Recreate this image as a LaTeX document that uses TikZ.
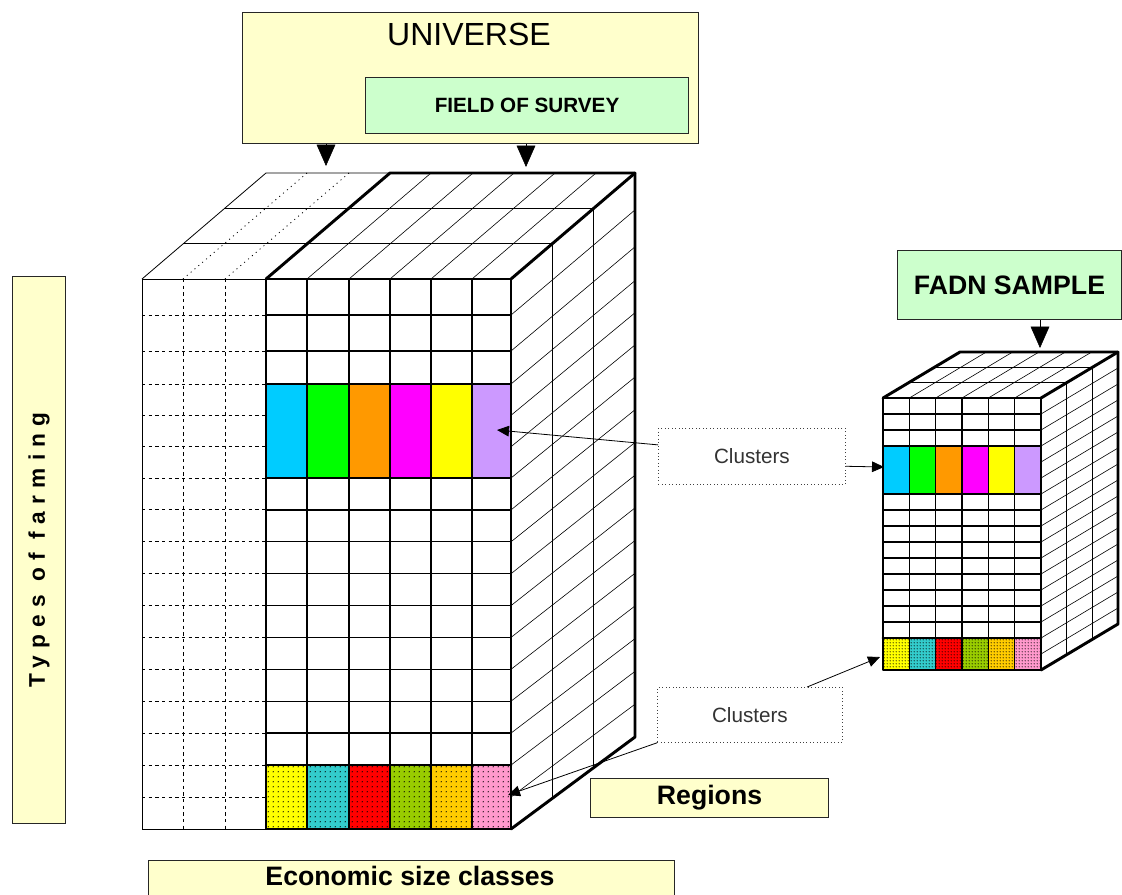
\documentclass[tikz,border=0pt]{standalone}
\usepackage{fontspec}
\setmainfont{Liberation Sans}
\usetikzlibrary{arrows.meta,patterns,calc}
\def\pu{0.75pt}
\pgfdeclarepatternformonly{rdots}{\pgfqpoint{0pt}{0pt}}{\pgfqpoint{3.5pt}{3.5pt}}{\pgfqpoint{3.5pt}{3.5pt}}{\pgfpathcircle{\pgfqpoint{1.75pt}{1.75pt}}{0.55pt}\pgfusepath{fill}}
\pgfdeclarepatternformonly{sdots}{\pgfqpoint{0pt}{0pt}}{\pgfqpoint{2.3pt}{2.3pt}}{\pgfqpoint{2.3pt}{2.3pt}}{\pgfpathcircle{\pgfqpoint{1.15pt}{1.15pt}}{0.55pt}\pgfusepath{fill}}
\definecolor{lyellow}{HTML}{FFFFCC}
\definecolor{lgreen}{HTML}{CCFFCC}
\definecolor{ccyan}{HTML}{00CCFF}
\definecolor{cgreen}{HTML}{00FF00}
\definecolor{corange}{HTML}{FF9900}
\definecolor{cmag}{HTML}{FF00FF}
\definecolor{cyel}{HTML}{FFFF00}
\definecolor{clav}{HTML}{CC99FF}
\definecolor{rteal}{HTML}{33CCCC}
\definecolor{rred}{HTML}{FF0000}
\definecolor{rolive}{HTML}{99CC00}
\definecolor{rgold}{HTML}{FFCC00}
\definecolor{rpink}{HTML}{FF99CC}
\begin{document}
\begin{tikzpicture}[x=0.75pt,y=-0.75pt,
  box/.style={draw=black!85, line width=0.8pt, inner sep=0pt, anchor=north west},
  cbox/.style={draw=black!75, dotted, line width=0.6pt, inner sep=0pt, anchor=north west, text=black!80, font=\fontsize{15.5}{15.5}\selectfont},
  boldline/.style={line width=2.2pt, line join=round, line cap=round},
  fgrid/.style={line width=1pt},
  sgrid/.style={line width=1.1pt},
  dthin/.style={line width=0.45pt},
  udash/.style={line width=0.7pt, dash pattern=on 2.5pt off 2.5pt},
  udot/.style={line width=0.6pt, dash pattern=on 0.8pt off 3pt},
  uthin/.style={line width=0.6pt},
  tri/.style={-{Triangle[length=16pt,width=14pt]}},
  clarrow/.style={line width=0.6pt, -{Triangle[length=9pt,width=8pt]}}
]
\useasboundingbox (0,0) rectangle (1122,894);
\clip (0,0) rectangle (1122,894);

% ---------------- main cube: fills
\foreach \xa/\xb/\c in {266/307/ccyan,307/349/cgreen,349/390/corange,390/431/cmag,431/472/cyel,472/511/clav}
  \fill[\c] (\xa,384) rectangle (\xb,478);
\foreach \xa/\xb/\c in {266/307/cyel,307/349/rteal,349/390/rred,390/431/rolive,431/472/rgold,472/511/rpink}{
  \fill[\c] (\xa,765) rectangle (\xb,829);
  \fill[pattern=rdots] (\xa,765) rectangle (\xb,829);}

% universe front face
\foreach \y in {315,351,384,415.3,446.7,478,509.9,541.8,573.7,605.6,637.4,669.3,701.2,733.1,765,797}
  \draw[udash] (142,\y) -- (266,\y);
\foreach \x in {183,225} \draw[udash] (\x,279) -- (\x,829);
\draw[uthin] (266,279) -- (142,279) -- (142,829) -- (266,829);

% field front grid (bands are single merged rows)
\foreach \y in {315,351,509.9,541.8,573.7,605.6,637.4,669.3,701.2,733.1}
  \draw[fgrid] (266,\y) -- (511,\y);
\foreach \x in {307,349,390,431,472} \draw[fgrid] (\x,279) -- (\x,829);

% right face
\foreach \y in {315,351,384,415.3,446.7,478,509.9,541.8,573.7,605.6,637.4,669.3,701.2,733.1,765,797}
  \draw[dthin] (511,\y) -- (635,{173+(\y-279)*1.02545});
\draw[fgrid] (552.33,243.67) -- (552.33,798.33);
\draw[fgrid] (593.67,208.33) -- (593.67,767.67);

% top face
\draw[dthin] (183.33,243.67) -- (552.33,243.67);
\draw[dthin] (224.67,208.33) -- (593.67,208.33);
\draw[uthin] (142,279) -- (266,173) -- (390,173);
\foreach \x in {183,225} \draw[udot] (\x,279) -- ++(124,-106);
\foreach \x in {307,349,390,431,472} \draw[dthin] (\x,279) -- ++(124,-106);

% bold outlines
\draw[boldline] (266,279) rectangle (511,829);
\draw[boldline] (266,384) rectangle (511,478);
\draw[boldline] (266,765) -- (511,765);
\draw[boldline] (266,279) -- (390,173) -- (635,173) -- (635,737) -- (511,829);
\draw[boldline] (511,279) -- (635,173);

% ---------------- small cube
\foreach \i/\c in {0/ccyan,1/cgreen,2/corange,3/cmag,4/cyel,5/clav}
  \fill[\c] ({883+26.333*\i},446) rectangle ({909.333+26.333*\i},494);
\foreach \i/\c in {0/cyel,1/rteal,2/rred,3/rolive,4/rgold,5/rpink}{
  \fill[\c] ({883+26.333*\i},638) rectangle ({909.333+26.333*\i},670);
  \fill[pattern=sdots] ({883+26.333*\i},638) rectangle ({909.333+26.333*\i},670);}
\foreach \j in {1,2,7,8,9,10,11,12,13,14,15} \draw[sgrid] (883,{398+16*\j}) -- (1041,{398+16*\j});
\foreach \i in {1,...,5} \draw[sgrid] ({883+26.333*\i},398) -- ({883+26.333*\i},670);
\foreach \j in {1,...,16} \draw[dthin] (1041,{398+16*\j}) -- (1118,{352+16*\j});
\draw[sgrid] (1066.67,382.67) -- (1066.67,654.67);
\draw[sgrid] (1092.33,367.33) -- (1092.33,639.33);
\draw[dthin] (908.67,382.67) -- (1066.67,382.67);
\draw[dthin] (934.33,367.33) -- (1092.33,367.33);
\foreach \i in {1,...,5} \draw[dthin] ({883+26.333*\i},398) -- ++(77,-46);
\draw[boldline] (883,398) rectangle (1041,670);
\draw[boldline] (883,446) rectangle (1041,494);
\draw[boldline] (883,638) -- (1041,638);
\draw[boldline] (883,398) -- (960,352) -- (1118,352) -- (1118,624) -- (1041,670);
\draw[boldline] (1041,398) -- (1118,352);

% ---------------- boxes
\node[box, fill=lyellow, minimum width=456*\pu, minimum height=131*\pu] (univ) at (242,12) {};
\node[font=\fontsize{24}{24}\selectfont] (univlabel) at (469,34) {UNIVERSE};
\node[box, fill=lgreen, minimum width=323*\pu, minimum height=56*\pu, font=\bfseries\fontsize{15.5}{15.5}\selectfont] (field) at (365,77) {FIELD OF SURVEY};
\node[box, fill=lgreen, minimum width=224*\pu, minimum height=69*\pu, font=\bfseries\fontsize{20}{20}\selectfont] (fadn) at (897,250) {FADN SAMPLE};
\node[box, fill=lyellow, minimum width=53*\pu, minimum height=547*\pu] (types) at (12,276) {};
\node[rotate=90, font=\bfseries\fontsize{17}{17}\selectfont\addfontfeatures{LetterSpace=32}] (typeslabel) at (types.center) {Types of farming};
\node[box, fill=lyellow, minimum width=526*\pu, minimum height=50*\pu] (econ) at (148,860) {};
\node[font=\bfseries\fontsize{20}{20}\selectfont] (econlabel) at (410,876) {Economic size classes};
\node[box, fill=lyellow, minimum width=238*\pu, minimum height=39*\pu, font=\bfseries\fontsize{20}{20}\selectfont] (regions) at (590,778) {Regions};
\node[cbox, minimum width=187*\pu, minimum height=56*\pu] (c1) at (658,428) {Clusters};
\node[cbox, minimum width=185*\pu, minimum height=55*\pu] (c2) at (657,687) {Clusters};

% ---------------- arrows
\coordinate (ua1) at (326,166);
\coordinate (ua2) at (526,167);
\coordinate (fa) at (1040,348);
\coordinate (purple) at (497,430);
\coordinate (sband) at (884,467);
\coordinate (sbottom) at (880,657);
\coordinate (pink) at (508,795);
\draw[tri] (univ.south -| ua1) -- (ua1);
\draw[tri] (univ.south -| ua2) -- (ua2);
\draw[tri] (fadn.south -| fa) -- (fa);
\draw[clarrow] (c1.173) -- (purple);
\draw[clarrow] (c1.-6) -- (sband);
\draw[clarrow] (c2.26) -- (sbottom);
\draw[clarrow] (c2.south west) -- (pink);
\end{tikzpicture}
\end{document}
